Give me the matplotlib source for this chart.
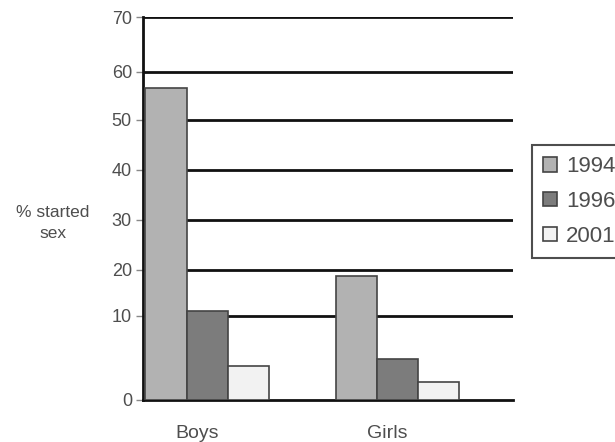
import numpy as np
import matplotlib
matplotlib.use("Agg")
import matplotlib.pyplot as plt

groups = ["Boys", "Girls"]
years = ["1994", "1996", "2001"]
pct_1994 = [56.7, 18.7]
pct_1996 = [11.1, 4.9]
pct_2001 = [4.0, 2.1]
yticks = [0, 10, 20, 30, 40, 50, 60, 70]
# the printed axis is not evenly spaced; pixel heights of each tick above 0
tick_px = [0, 84, 130, 180, 230, 280, 328, 383]

colors = ["#b2b2b2", "#7c7c7c", "#f2f2f2"]
txt = "#4e4e4e"

plt.rcParams['font.family'] = ['Liberation Sans', 'DejaVu Sans']

def fwd(v):
    return np.interp(np.asarray(v, dtype=float), yticks, tick_px,
                     left=-1e3, right=1e3)

def inv(u):
    return np.interp(np.asarray(u, dtype=float), tick_px, yticks)

fig = plt.figure(figsize=(6.15, 4.42), dpi=100)
ax = fig.add_axes([143 / 615, 1 - 400 / 442, 370 / 615, 383 / 442])
ax.set_yscale('function', functions=(fwd, inv))

x = np.arange(len(groups))
w = 0.216
for i, (vals, c) in enumerate(zip([pct_1994, pct_1996, pct_2001], colors)):
    ax.bar(x + (i - 1) * w, vals, w, color=c, edgecolor="#444444",
           linewidth=1.2, label=years[i], zorder=3)

for t in yticks[1:]:
    ax.axhline(t, color="#111111", lw=2, zorder=1)

ax.set_ylim(0, 70)
ax.set_xlim(-0.337, 1.608)
ax.set_yticks(yticks)
ax.set_yticklabels([str(t) for t in yticks], color=txt, fontsize=13)
ax.tick_params(axis='y', length=5, width=1, color="#888888", pad=3)
ax.set_xticks(x - 0.053)
ax.set_xticklabels(groups, color=txt, fontsize=14)
ax.tick_params(axis='x', length=0, pad=18)

for s in ['top', 'right']:
    ax.spines[s].set_visible(False)
for s in ['left', 'bottom']:
    ax.spines[s].set_linewidth(2)
    ax.spines[s].set_color("#111111")

fig.text(53 / 615, 1 - 223 / 442, "% started\nsex", ha='center', va='center',
         color=txt, fontsize=12.5, linespacing=1.45)

leg = fig.legend(loc='upper left', bbox_to_anchor=(532 / 615, 1 - 145 / 442),
                 fontsize=16, frameon=True, fancybox=False, handlelength=0.63,
                 handleheight=0.63, handletextpad=0.4, borderpad=0.5,
                 labelspacing=0.62, borderaxespad=0)
leg.get_frame().set_edgecolor("#222222")
leg.get_frame().set_linewidth(1.5)
for t in leg.get_texts():
    t.set_color(txt)

fig.savefig("out.png", dpi=100)
